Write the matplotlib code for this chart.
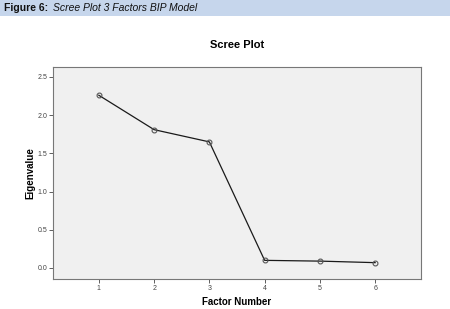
import matplotlib.pyplot as plt
from matplotlib.patches import Rectangle

factors = [1, 2, 3, 4, 5, 6]
eigenvalues = [2.26, 1.81, 1.65, 0.10, 0.09, 0.07]
yticks = [0.0, 0.5, 1.0, 1.5, 2.0, 2.5]

plt.rcParams["font.family"] = ["Liberation Sans", "DejaVu Sans"]

fig = plt.figure(figsize=(4.5, 3.09), dpi=100)
fig.patch.set_facecolor("white")

# header band
fig.patches.append(Rectangle((0, 1 - 16 / 309), 1, 16 / 309, transform=fig.transFigure,
                             facecolor="#c6d6ec", edgecolor="none", zorder=0))
fig.text(4 / 450, 1 - 8 / 309, "Figure 6:", fontsize=7.5, fontweight="bold",
         va="center", ha="left", color="#111111")
fig.text(53 / 450, 1 - 8 / 309, "Scree Plot 3 Factors BIP Model", fontsize=7.5,
         fontstyle="italic", va="center", ha="left", color="#111111")

ax = fig.add_axes([53 / 450, 1 - 279 / 309, (421 - 53) / 450, (279 - 67) / 309])
ax.set_facecolor("#f0f0f0")
ax.plot(factors, eigenvalues, color="#1a1a1a", linewidth=0.9, marker="o",
        markersize=3.5, markerfacecolor="none", markeredgecolor="#555555",
        markeredgewidth=0.8)

ax.set_xlim(0.17, 6.83)
ax.set_ylim(-0.144, 2.63)
ax.set_xticks(factors)
ax.set_yticks(yticks)
ax.set_yticklabels([f"{v:.1f}" for v in yticks])
ax.tick_params(labelsize=5, colors="#444444", length=3, width=0.6, pad=1)
for s in ax.spines.values():
    s.set_color("#777777")
    s.set_linewidth(0.8)

ax.set_title("Scree Plot", fontsize=8, fontweight="bold", pad=14)
ax.set_xlabel("Factor Number", fontsize=7, fontweight="bold", labelpad=4)
ax.set_ylabel("Eigenvalue", fontsize=7, fontweight="bold")
ax.yaxis.set_label_coords(-18 / 368, 0.5)

fig.savefig("out.png", dpi=100)
